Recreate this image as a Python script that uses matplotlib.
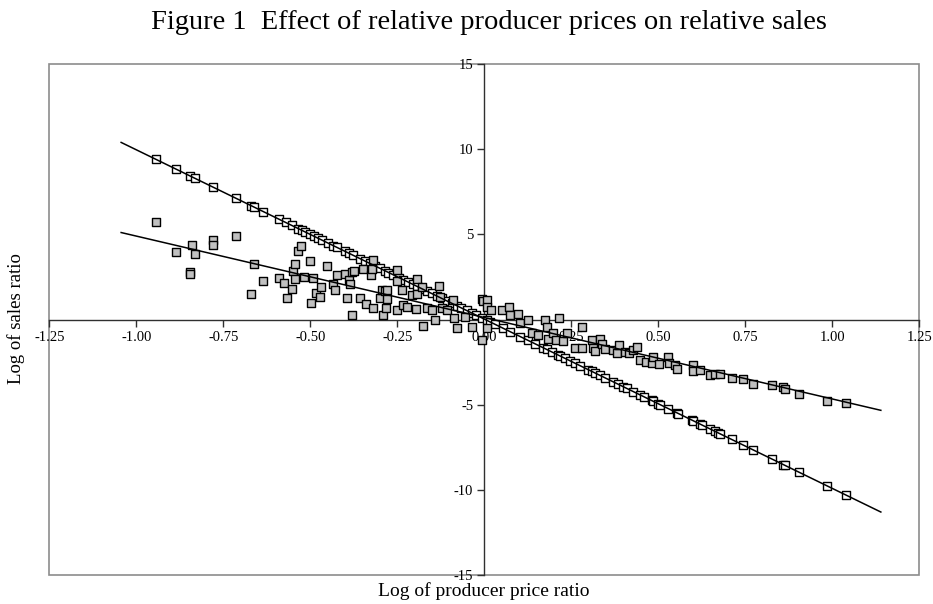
import matplotlib
matplotlib.use("Agg")
import matplotlib.pyplot as plt
import numpy as np
from matplotlib.patches import Rectangle

plt.rcParams["font.family"] = ["Liberation Serif", "DejaVu Serif"]
plt.rcParams["axes.unicode_minus"] = False

# series 1: open squares (steep relation)
x_open = [-0.944, -0.887, -0.846, -0.832, -0.781, -0.714, -0.671, -0.661, -0.636, -0.591,
          -0.571, -0.554, -0.535, -0.525, -0.516, -0.501, -0.490, -0.478, -0.468, -0.449,
          -0.434, -0.425, -0.401, -0.388, -0.377, -0.358, -0.343, -0.329, -0.315, -0.300,
          -0.286, -0.276, -0.262, -0.245, -0.233, -0.219, -0.206, -0.195, -0.180, -0.166,
          -0.152, -0.137, -0.123, -0.109, -0.094, -0.080, -0.066, -0.051, -0.037, -0.023,
          -0.008, 0.006, 0.015, 0.030, 0.054, 0.073, 0.102, 0.126, 0.145, 0.169,
          0.179, 0.193, 0.212, 0.216, 0.231, 0.246, 0.260, 0.274, 0.298, 0.308,
          0.318, 0.332, 0.346, 0.370, 0.385, 0.399, 0.409, 0.428, 0.447, 0.457,
          0.480, 0.485, 0.499, 0.504, 0.528, 0.552, 0.557, 0.595, 0.600, 0.619,
          0.624, 0.648, 0.662, 0.672, 0.677, 0.710, 0.744, 0.771, 0.825, 0.859,
          0.863, 0.905, 0.985, 1.039]
y_open = [9.40, 8.84, 8.43, 8.29, 7.78, 7.12, 6.69, 6.59, 6.34, 5.89,
          5.70, 5.53, 5.34, 5.24, 5.15, 5.00, 4.89, 4.77, 4.67, 4.48,
          4.33, 4.24, 4.01, 3.88, 3.77, 3.58, 3.43, 3.29, 3.15, 3.00,
          2.86, 2.76, 2.62, 2.46, 2.34, 2.20, 2.07, 1.96, 1.81, 1.67,
          1.53, 1.38, 1.24, 1.10, 0.95, 0.82, 0.68, 0.53, 0.39, 0.25,
          0.10, -0.04, -0.13, -0.28, -0.52, -0.71, -1.00, -1.23, -1.42, -1.66,
          -1.76, -1.90, -2.09, -2.13, -2.28, -2.43, -2.56, -2.70, -2.94, -3.04,
          -3.14, -3.28, -3.42, -3.66, -3.81, -3.95, -4.05, -4.23, -4.42, -4.52,
          -4.75, -4.80, -4.94, -4.99, -5.23, -5.47, -5.52, -5.89, -5.94, -6.13,
          -6.18, -6.42, -6.56, -6.66, -6.71, -7.04, -7.38, -7.64, -8.18, -8.52,
          -8.56, -8.98, -9.77, -10.31]

# series 2: grey squares (flatter relation, noisy on the left)
x_grey = [-0.944, -0.887, -0.846, -0.846, -0.840, -0.832, -0.781, -0.781, -0.714, -0.671,
          -0.661, -0.636, -0.591, -0.575, -0.568, -0.554, -0.549, -0.545, -0.543, -0.535,
          -0.528, -0.519, -0.501, -0.497, -0.492, -0.484, -0.473, -0.471, -0.453, -0.434,
          -0.430, -0.423, -0.401, -0.396, -0.388, -0.385, -0.382, -0.375, -0.382, -0.358,
          -0.348, -0.340, -0.327, -0.324, -0.321, -0.320, -0.300, -0.295, -0.291, -0.286,
          -0.283, -0.279, -0.279, -0.252, -0.251, -0.252, -0.238, -0.233, -0.224, -0.209,
          -0.197, -0.195, -0.193, -0.180, -0.176, -0.166, -0.152, -0.142, -0.130, -0.128,
          -0.123, -0.109, -0.091, -0.088, -0.078, -0.056, -0.037, -0.008, -0.003, 0.008,
          -0.008, 0.006, 0.006, 0.018, 0.049, 0.071, 0.073, 0.097, 0.102, 0.126,
          0.136, 0.155, 0.174, 0.179, 0.183, 0.198, 0.207, 0.215, 0.226, 0.236,
          0.260, 0.279, 0.279, 0.308, 0.313, 0.318, 0.332, 0.337, 0.346, 0.368,
          0.380, 0.387, 0.404, 0.416, 0.428, 0.439, 0.447, 0.464, 0.480, 0.485,
          0.502, 0.528, 0.531, 0.547, 0.552, 0.598, 0.600, 0.619, 0.648, 0.662,
          0.677, 0.710, 0.744, 0.771, 0.825, 0.859, 0.863, 0.905, 0.985, 1.039]
y_grey = [5.73, 3.97, 2.80, 2.70, 4.36, 3.87, 4.66, 4.36, 4.91, 1.49,
          3.25, 2.25, 2.44, 2.15, 1.29, 1.78, 2.85, 3.25, 2.35, 4.03,
          4.30, 2.50, 3.44, 0.97, 2.41, 1.53, 1.33, 1.88, 3.13, 2.11,
          1.76, 2.60, 2.70, 1.29, 2.31, 2.07, 2.80, 2.84, 0.25, 1.29,
          2.94, 0.94, 2.60, 2.99, 3.52, 0.65, 1.29, 1.72, 0.25, 1.68,
          0.65, 1.76, 1.23, 2.89, 2.27, 0.55, 1.72, 0.84, 0.74, 1.43,
          0.59, 2.35, 1.49, 1.91, -0.39, 0.70, 0.55, -0.04, 1.96, 1.33,
          0.65, 0.55, 1.13, 0.06, -0.47, 0.15, -0.43, 1.23, 1.09, 1.13,
          -1.22, 0.74, -0.47, 0.55, 0.55, 0.76, 0.25, 0.35, -0.23, -0.04,
          -0.82, -0.92, -0.04, -0.45, -1.12, -0.82, -1.22, 0.09, -1.27, -0.82,
          -1.70, -0.45, -1.70, -1.22, -1.70, -1.84, -1.12, -1.41, -1.76, -1.80,
          -1.95, -1.47, -1.90, -1.96, -1.80, -1.61, -2.39, -2.49, -2.58, -2.20,
          -2.62, -2.23, -2.58, -2.68, -2.88, -2.68, -3.02, -2.98, -3.24, -3.22,
          -3.20, -3.41, -3.47, -3.76, -3.86, -3.99, -4.09, -4.35, -4.78, -4.90]

x_ticks = [-1.25, -1.00, -0.75, -0.50, -0.25, 0.00, 0.25, 0.50, 0.75, 1.00, 1.25]
y_ticks = [-15, -10, -5, 5, 10, 15]

fig = plt.figure(figsize=(9.33, 6.04), dpi=100)
ax = fig.add_axes([0.053, 0.048, 0.9325, 0.846])
ax.set_xlim(-1.25, 1.25)
ax.set_ylim(-15, 15)

ax.scatter(x_open, y_open, marker="s", s=36, facecolor="white", edgecolor="black",
           linewidth=1.0, zorder=3)
ax.scatter(x_grey, y_grey, marker="s", s=36, facecolor="#c0c0c0", edgecolor="black",
           linewidth=1.0, zorder=4)

# linear trendlines, extended 0.1 beyond the data on both sides
for xs, ys in ((x_open, y_open), (x_grey, y_grey)):
    xs = np.asarray(xs)
    k, b = np.polyfit(xs, ys, 1)
    xl = np.array([xs.min() - 0.1, xs.max() + 0.1])
    ax.plot(xl, k * xl + b, color="black", lw=1.1, zorder=5)

# axes crossing at the origin
for s in ("top", "right"):
    ax.spines[s].set_visible(False)
ax.spines["left"].set_position(("data", 0))
ax.spines["bottom"].set_position(("data", 0))
for s in ("left", "bottom"):
    ax.spines[s].set_color("#303030")
    ax.spines[s].set_linewidth(1.0)

ax.add_patch(Rectangle((0, 0), 1, 1, transform=ax.transAxes, fill=False,
                       edgecolor="#8c8c8c", lw=1.2, zorder=0, clip_on=False))

ax.set_xticks(x_ticks)
ax.set_xticklabels([f"{v:.2f}" for v in x_ticks])
ax.set_yticks(y_ticks)
ax.set_yticklabels([str(v) for v in y_ticks])
ax.tick_params(axis="both", direction="out", length=5, width=1.0, color="#303030",
               labelsize=10.5, pad=3)

fig.text(0.524, 0.962, "Figure 1  Effect of relative producer prices on relative sales",
         ha="center", va="center", fontsize=20.5)
fig.text(0.519, 0.022, "Log of producer price ratio", ha="center", va="center", fontsize=14)
fig.text(0.017, 0.473, "Log of sales ratio", ha="center", va="center", rotation=90,
         fontsize=13.5)

fig.savefig("out.png", dpi=100)
